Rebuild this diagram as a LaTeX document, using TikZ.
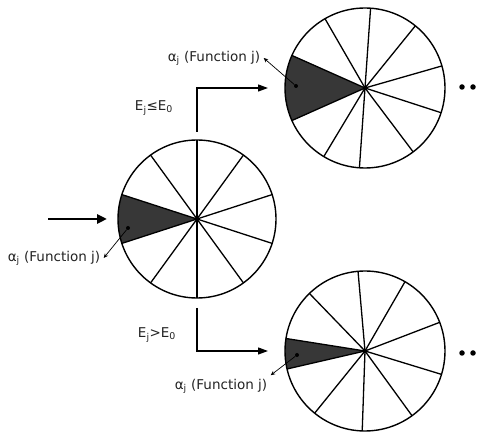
\documentclass[tikz,border=0pt]{standalone}
\usepackage{fontspec}
\setmainfont{DejaVu Sans}
\usepackage{tikz}
\usetikzlibrary{arrows.meta, positioning, calc, backgrounds}
\definecolor{slicegray}{RGB}{55,55,55}
\definecolor{inkgray}{RGB}{35,35,35}

\begin{document}
\begin{tikzpicture}[
    x=1pt, y=1pt,
    every node/.style = {font=\fontsize{13.5}{16}\selectfont, text=inkgray},
    wheel/.style  = {draw, circle, line width=1.4pt, inner sep=0pt, outer sep=0pt},
    spoke/.style  = {line width=1.3pt},
    hub/.style    = {circle, fill, inner sep=0pt, minimum size=4pt},
    more/.style   = {circle, fill, inner sep=0pt, minimum size=5.5pt},
    arr/.style    = {-{Triangle[length=10pt, width=7pt]}, line width=1.2pt},
    bigarr/.style = {-{Triangle[length=10pt, width=9pt]}, line width=2.6pt},
    ptr/.style    = {-{Stealth[length=4.5pt, width=4pt]}, line width=0.7pt},
]
\useasboundingbox (0,0) rectangle (483,-435);

% Wheels
\node[wheel, minimum size=158pt] (L) at (197,-219) {};
\node[wheel, minimum size=160pt] (T) at (365,-88) {};
\node[wheel, minimum size=160pt] (B) at (365,-351) {};

% Selected slices
\begin{scope}[on background layer]
  \fill[slicegray] (L.center) -- (L.162) arc[start angle=162, end angle=198, radius=79] -- cycle;
  \fill[slicegray] (T.center) -- (T.156) arc[start angle=156, end angle=204, radius=80] -- cycle;
  \fill[slicegray] (B.center) -- (B.171) arc[start angle=171, end angle=193, radius=80] -- cycle;
\end{scope}

% Spokes
\foreach \a in {18,54,...,342}
  \draw[spoke] (L.center) -- (L.\a);
\foreach \a in {86,51,16,342,307,266,239,204,156,120}
  \draw[spoke] (T.center) -- (T.\a);
\foreach \a in {95,60,21,343,306,268,231,193,171,134}
  \draw[spoke] (B.center) -- (B.\a);

% Hubs
\node[hub] (Lc) at (L.center) {};
\node[hub] (Tc) at (T.center) {};
\node[hub] (Bc) at (B.center) {};

% Function pointers
\node[hub] (Ldot) at (128,-228) {};
\node[hub] (Tdot) at (296,-86) {};
\node[hub] (Bdot) at (297,-355) {};
\node (Llab) at (54,-258) {α\textsubscript{j} (Function j)};
\node (Tlab) at (214,-58) {α\textsubscript{j} (Function j)};
\node (Blab) at (221,-386) {α\textsubscript{j} (Function j)};
\draw[ptr] (Ldot) -- (Llab.east);
\draw[ptr] (Tdot) -- (Tlab.east);
\draw[ptr] (Bdot) -- (Blab.north east);

% Input
\coordinate (in) at (48,-219);
\draw[bigarr, shorten >=11pt] (in) -- (L.west);

% Branches
\node (le) at (154,-108) {E\textsubscript{j}≤E\textsubscript{0}};
\node (gt) at (157,-335) {E\textsubscript{j}>E\textsubscript{0}};
\draw[arr, shorten <=8pt, shorten >=17pt] (L.north) |- (T.west);
\draw[arr, shorten <=10pt, shorten >=17pt] (L.south) |- (B.west);

% Continuation dots
\foreach \x in {462,473}{
  \node[more] (Tm\x) at (\x,-87) {};
  \node[more] (Bm\x) at (\x,-353) {};
}

\end{tikzpicture}
\end{document}
